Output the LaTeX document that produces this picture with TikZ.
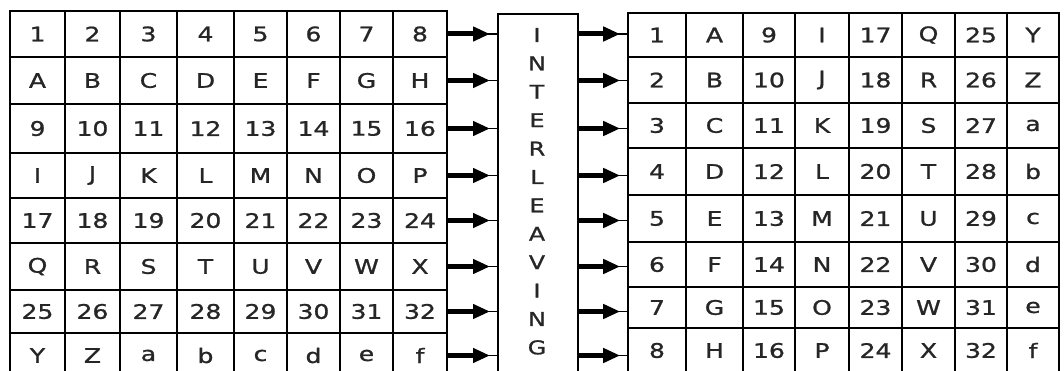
\documentclass[tikz,border=0pt]{standalone}
\usepackage{fontspec}
\setmainfont{DejaVu Sans}
\newfontfamily\cellfont{DejaVu Sans}[FakeBold=1.0]
\usetikzlibrary{arrows.meta}
\newcommand\wide[1]{\scalebox{1.25}[1]{#1}}
\newcommand\symb[1]{\ifcase#1\or A\or B\or C\or D\or E\or F\or G\or H\or I\or J\or K\or L\or M\or N\or O\or P\or Q\or R\or S\or T\or U\or V\or W\or X\or Y\or Z\or a\or b\or c\or d\or e\or f\fi}
\begin{document}
\begin{tikzpicture}[x=1pt,y=-1pt,
  cell/.style={draw=black, line width=1.6pt, inner sep=0pt, font=\cellfont\fontsize{20}{22}\selectfont, text=black!85},
  lbl/.style={inner sep=0pt, font=\cellfont\fontsize{19}{21}\selectfont, text=black!85},
  fat/.style={line width=5pt, -{Triangle[length=17pt,width=14pt]}, shorten >=7pt},
  link/.style={line width=1.3pt},
  box/.style={draw=black, line width=1.6pt, inner sep=0pt}]
\useasboundingbox (0,0) rectangle (1064,371);
\clip (0,0) rectangle (1064,371);
\fill[white] (0,0) rectangle (1064,371);
% left table
\foreach \r/\y/\h in {1/34/46, 2/80.5/47, 3/128.5/49, 4/175.5/45, 5/220.5/45, 6/266.5/47, 7/311.5/43, 8/355.5/45}{
  \foreach \c/\x/\w in {1/37.5/55, 2/92.5/55, 3/148.5/57, 4/205.5/57, 5/260.5/53, 6/313.5/53, 7/366.5/53, 8/420/54}{
    \pgfmathtruncatemacro\idx{8*int((\r-1)/2)+\c}
    \pgfmathtruncatemacro\odd{mod(\r,2)}
    \node[cell, minimum width=\w pt, minimum height=\h pt] (L-\r-\c) at (\x,\y) {\wide{\ifnum\odd=1 \idx\else\symb{\idx}\fi}};
  }
}
% right table
\foreach \r/\y/\h in {1/35/44, 2/80/46, 3/125.5/45, 4/171.5/47, 5/218.5/47, 6/264.5/45, 7/307.5/41, 8/350.5/45}{
  \foreach \c/\x/\w in {1/657/58, 2/714.5/57, 3/769/52, 4/822/54, 5/875.5/53, 6/928.5/53, 7/981/52, 8/1033/52}{
    \pgfmathtruncatemacro\idx{8*int((\c-1)/2)+\r}
    \pgfmathtruncatemacro\odd{mod(\c,2)}
    \node[cell, minimum width=\w pt, minimum height=\h pt] (R-\r-\c) at (\x,\y) {\wide{\ifnum\odd=1 \idx\else\symb{\idx}\fi}};
  }
}
% interleaving box
\node[box, minimum width=80pt, minimum height=365pt, anchor=north west] (box) at (497,13) {};
\foreach \t [count=\i] in {I,N,T,E,R,L,E,A,V,I,N,G}
  \node[lbl] (il-\i) at (537, {35+28.4*(\i-1)}) {\wide{\t}};
% arrows
\foreach \r in {1,...,8}{
  \draw[link] (L-\r-8.east) -- (L-\r-8.east -| box.west);
  \draw[fat] (L-\r-8.east) -- (L-\r-8.east -| box.west);
  \draw[link] (box.east |- L-\r-8) -- (R-\r-1.west |- L-\r-8);
  \draw[fat] (box.east |- L-\r-8) -- (R-\r-1.west |- L-\r-8);
}
\end{tikzpicture}
\end{document}
